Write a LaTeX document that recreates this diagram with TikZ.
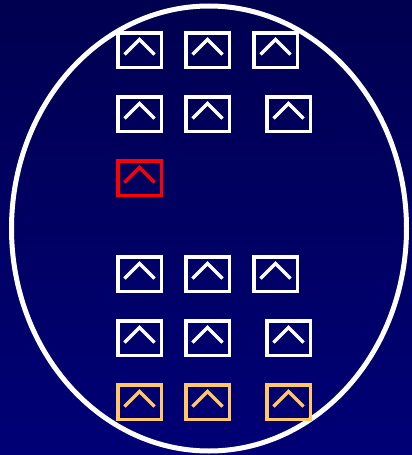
\documentclass[tikz,border=0pt]{standalone}
\usetikzlibrary{positioning}
\definecolor{navytop}{RGB}{0,0,80}
\definecolor{navybot}{RGB}{0,0,118}
\definecolor{gold}{RGB}{255,200,100}

\tikzset{
  upbox/.style={draw=#1, line width=3.5pt, minimum width=43.5pt, minimum height=34.5pt,
    inner sep=0pt, outer sep=0pt,
    path picture={\draw[#1, line width=3.5pt] (path picture bounding box.center)
      ++(-15,4.5) -- ++(15,-15) -- ++(15,15);}},
  upbox/.default=white,
}

\begin{document}
\begin{tikzpicture}[x=1pt, y=-1pt]
  % Sfondo e cornice
  \shade[top color=navytop, bottom color=navybot] (0,0) rectangle (412,455);
  \useasboundingbox (0,0) rectangle (412,455);
  \draw[white, line width=5pt] (209,228.5) ellipse [x radius=197.5, y radius=222.5];

  % Gruppo superiore
  \node[upbox] (a1) at (139.5,50) {};
  \node[upbox, right=24.5pt of a1] (a2) {};
  \node[upbox, right=24.5pt of a2] (a3) {};
  \node[upbox, below=29.5pt of a1] (b1) {};
  \node[upbox, right=24.5pt of b1] (b2) {};
  \node[upbox, right=37.5pt of b2] (b3) {};
  \node[upbox=red, below=29.5pt of b1] (c1) {};

  % Gruppo inferiore
  \node[upbox, below=61.5pt of c1] (d1) {};
  \node[upbox, right=24.5pt of d1] (d2) {};
  \node[upbox, right=24.5pt of d2] (d3) {};
  \node[upbox, below=29.5pt of d1] (e1) {};
  \node[upbox, right=24.5pt of e1] (e2) {};
  \node[upbox, right=37.5pt of e2] (e3) {};
  \node[upbox=gold, below=29.5pt of e1] (f1) {};
  \node[upbox=gold, right=24.5pt of f1] (f2) {};
  \node[upbox=gold, right=37.5pt of f2] (f3) {};
\end{tikzpicture}
\end{document}
